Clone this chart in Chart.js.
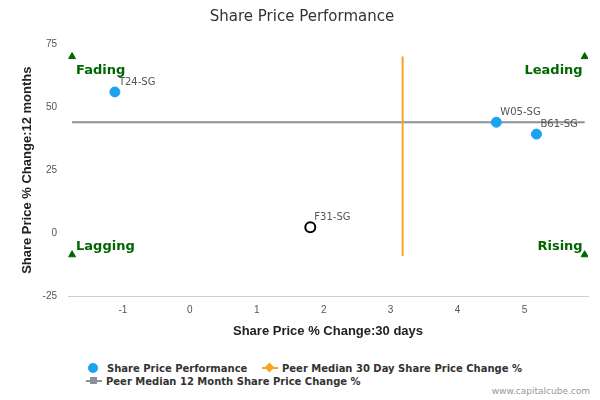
<!DOCTYPE html>
<html><head><meta charset="utf-8">
<script src="https://cdn.jsdelivr.net/npm/chart.js@4"></script>
<style>
body{margin:0;width:600px;height:400px;background:#fff;font-family:"DejaVu Sans",sans-serif;position:relative}
#wrap{position:absolute;left:0;top:0;width:600px;height:343px}
.lg{position:absolute;font-size:10px;font-weight:bold;color:#333}
.credit{position:absolute;right:10px;top:386px;font-size:9px;color:#999}
.mk{display:inline-block;position:relative;width:16px;height:2px;vertical-align:3px;margin-right:4px}
.mk i{position:absolute;left:4px;top:-3px;width:7px;height:7px}
</style></head><body>
<div id="wrap"><canvas id="c"></canvas></div>
<div class="lg" style="left:88px;top:363px"><span style="display:inline-block;width:10px;height:10px;border-radius:50%;background:#1aa3f0;vertical-align:-1px;margin-right:9px"></span>Share Price Performance</div>
<div class="lg" style="left:262px;top:363px"><span class="mk" style="background:#f5a623"><i style="background:#f5a623;transform:rotate(45deg)"></i></span>Peer Median 30 Day Share Price Change %</div>
<div class="lg" style="left:86px;top:376px"><span class="mk" style="background:#8a9199"><i style="background:#8a9199"></i></span>Peer Median 12 Month Share Price Change %</div>
<div class="credit">www.capitalcube.com</div>
<script>
// точки компаний
const names = ["T24-SG", "W05-SG", "B61-SG", "F31-SG"];
const xs = [-1.12, 4.58, 5.18, 1.8];
const ys = [56, 44, 39.3, 2.4];
const highlight = [false, false, false, true];
// медианы по группе
const medianX = 3.18;
const medianY = 44;
const medianXRange = [-9, 70];
const medianYRange = [-1.76, 5.9];
// углы квадрантов
const cornerLabels = ["Fading", "Leading", "Lagging", "Rising"];
const cornerX = [-1.76, 5.9, -1.76, 5.9];
const cornerY = [70, 70, -8.5, -8.5];

const GREEN = "#006600";

const labelPlugin = {
  id: "labels",
  afterDatasetsDraw(chart) {
    const { ctx, scales: { x, y } } = chart;
    ctx.save();
    ctx.font = "10px 'DejaVu Sans'";
    ctx.fillStyle = "#555";
    names.forEach((n, i) => {
      ctx.textAlign = "left";
      ctx.fillText(n, x.getPixelForValue(xs[i]) + 4, y.getPixelForValue(ys[i]) - 7);
    });
    ctx.font = "bold 13px 'DejaVu Sans'";
    ctx.fillStyle = GREEN;
    cornerLabels.forEach((t, i) => {
      const px = x.getPixelForValue(cornerX[i]);
      const py = y.getPixelForValue(cornerY[i]);
      ctx.textAlign = i % 2 ? "right" : "left";
      ctx.fillText(t, px + (i % 2 ? -2 : 4), py + (i < 2 ? 17 : -5));
    });
    ctx.restore();
  }
};

new Chart(document.getElementById("c"), {
  type: "scatter",
  data: {
    datasets: [
      {
        data: xs.map((v, i) => ({ x: v, y: ys[i] })),
        backgroundColor: highlight.map(h => h ? "#fff" : "#1aa3f0"),
        borderColor: highlight.map(h => h ? "#000" : "#1aa3f0"),
        borderWidth: highlight.map(h => h ? 2 : 1),
        pointRadius: 5,
        order: 1,
      },
      {
        type: "line",
        data: medianXRange.map(v => ({ x: medianX, y: v })),
        borderColor: "#f5a623", borderWidth: 2, pointRadius: 0, order: 2,
      },
      {
        type: "line",
        data: medianYRange.map(v => ({ x: v, y: medianY })),
        borderColor: "#8a9199", borderWidth: 2, pointRadius: 0, order: 3,
      },
      {
        data: cornerX.map((v, i) => ({ x: v, y: cornerY[i] })),
        pointStyle: "triangle", pointRadius: 4,
        backgroundColor: GREEN, borderColor: GREEN, order: 0,
      },
    ],
  },
  options: {
    responsive: true,
    maintainAspectRatio: false,
    animation: false,
    layout: { padding: { top: 0, right: 12, left: 16 } },
    plugins: {
      legend: { display: false },
      tooltip: { enabled: false },
      title: {
        display: true, text: "Share Price Performance", color: "#333",
        font: { size: 15, weight: "normal", family: "DejaVu Sans" }, padding: { top: 8, bottom: 18 },
      },
    },
    scales: {
      x: {
        min: -1.82, max: 5.95,
        afterBuildTicks: (a) => { a.ticks = [-1, 0, 1, 2, 3, 4, 5].map(v => ({ value: v })); },
        ticks: { color: "#555", font: { size: 10 } },
        grid: { display: false, drawTicks: true, tickLength: 5, color: "#c0d0e0" },
        border: { color: "#c0d0e0" },
        title: { display: true, text: "Share Price % Change:30 days", color: "#222", font: { size: 13, weight: "bold" } },
      },
      y: {
        min: -25, max: 75,
        ticks: { stepSize: 25, color: "#555", font: { size: 10 } },
        grid: { display: false },
        border: { display: false },
        title: { display: true, text: "Share Price % Change:12 months", color: "#222", font: { size: 13, weight: "bold" } },
      },
    },
  },
  plugins: [labelPlugin],
});
</script>
</body></html>
